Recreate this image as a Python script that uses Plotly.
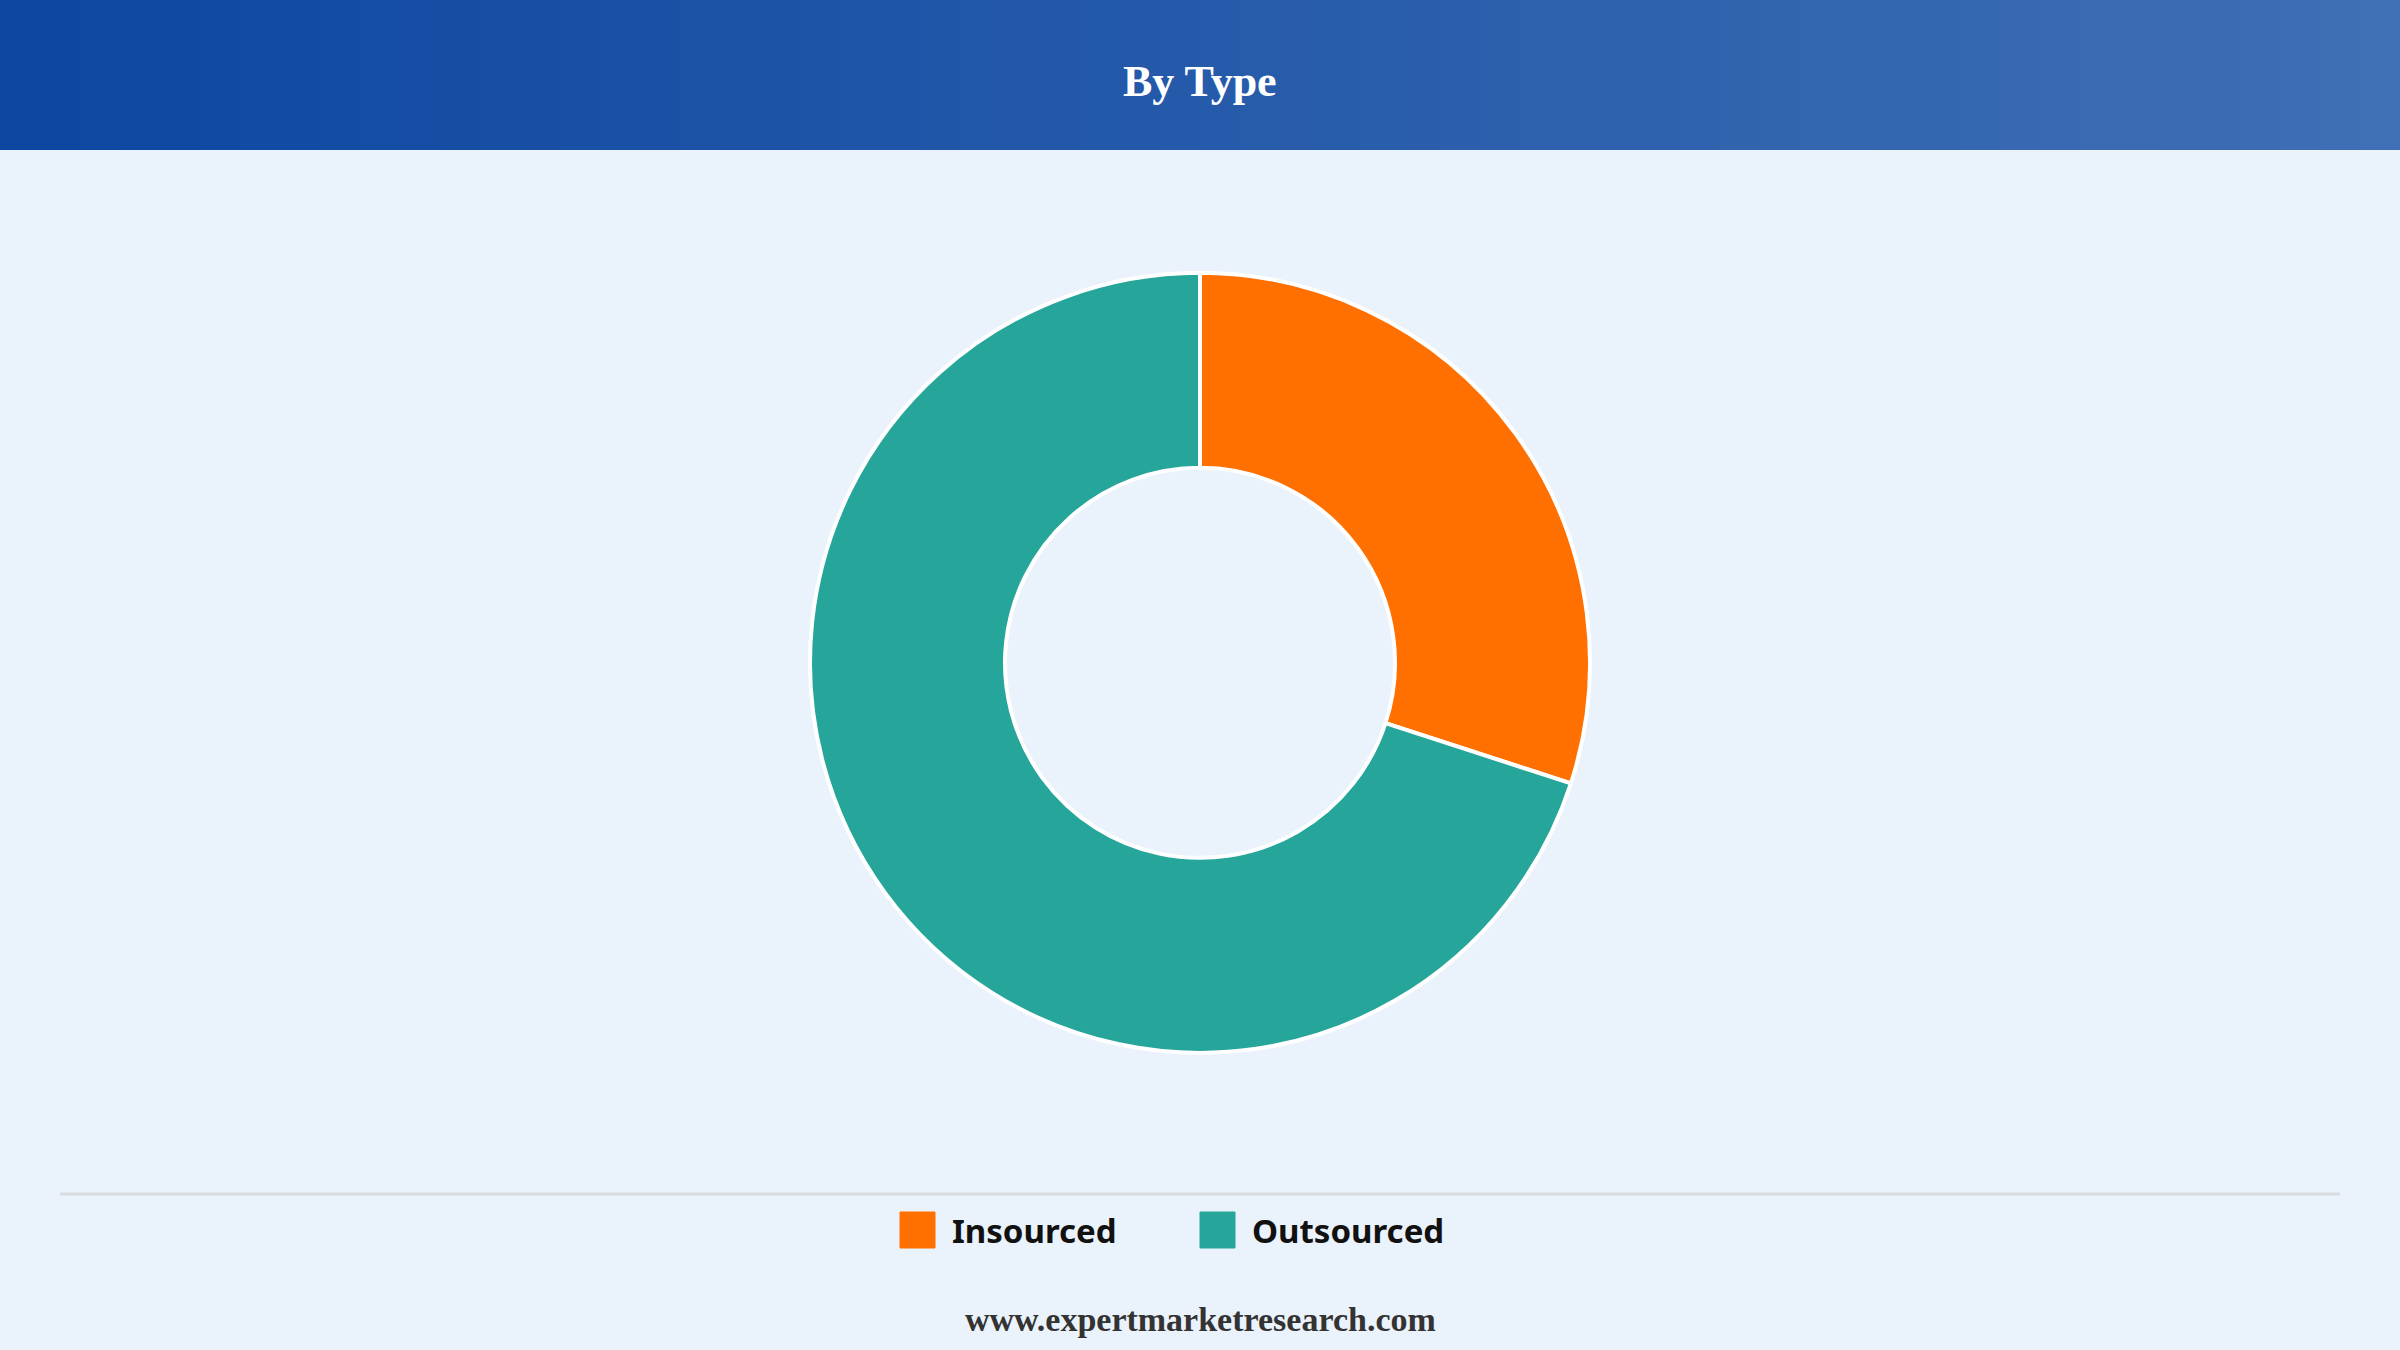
import plotly.graph_objects as go

labels = ["Insourced", "Outsourced"]
values = [30, 70]
colors = ["#FF7000", "#26A69A"]

W, H = 2400, 1350
fig = go.Figure(go.Pie(
    labels=labels, values=values, hole=0.5, sort=False, direction="clockwise", rotation=0,
    marker=dict(colors=colors, line=dict(color="white", width=4)),
    textinfo="none", hoverinfo="label+percent",
    domain=dict(x=[0.3375, 0.6625], y=[0.22, 0.798]),
))

shapes = []
n = 60
c0 = (13, 71, 161); c1 = (63, 111, 181)
for i in range(n):
    t = i / (n - 1)
    c = tuple(int(c0[k] + (c1[k] - c0[k]) * t) for k in range(3))
    shapes.append(dict(type="rect", xref="paper", yref="paper", x0=i / n, x1=(i + 1) / n + 0.002,
                       y0=1 - 150 / H, y1=1, fillcolor="rgb(%d,%d,%d)" % c, line=dict(width=0), layer="below"))
shapes.append(dict(type="line", xref="paper", yref="paper", x0=60 / W, x1=2340 / W,
                   y0=1 - 1194 / H, y1=1 - 1194 / H, line=dict(color="#D8DCE0", width=3)))

annotations = [
    dict(text="<b>By Type</b>", x=0.5, y=1 - 81 / H, xref="paper", yref="paper", showarrow=False,
         yanchor="middle", font=dict(family="Liberation Serif", size=44, color="white")),
    dict(text="<b>www.expertmarketresearch.com</b>", x=0.5, y=1 - 1319 / H, xref="paper", yref="paper",
         yanchor="middle", showarrow=False, font=dict(family="Liberation Serif", size=34, color="#333")),
]
leg_x = [900, 1200]
for lab, col, lx in zip(labels, colors, leg_x):
    shapes.append(dict(type="rect", xref="paper", yref="paper", x0=lx / W, x1=(lx + 35) / W,
                       y0=1 - 1248 / H, y1=1 - 1212 / H, fillcolor=col, line=dict(color=col, width=1)))
    annotations.append(dict(text="<b>%s</b>" % lab, x=(lx + 50) / W, y=1 - 1230 / H, xref="paper", yref="paper",
                            xanchor="left", yanchor="middle", showarrow=False,
                            font=dict(family="Noto Sans", size=33, color="#111")))

fig.update_layout(
    width=W, height=H, margin=dict(l=0, r=0, t=0, b=0),
    paper_bgcolor="#EAF2FB", plot_bgcolor="#EAF2FB",
    shapes=shapes, showlegend=False, annotations=annotations,
)
fig.write_html("out.html", config={"displayModeBar": False},
               post_script="document.body.style.margin='0';document.body.style.background='#EAF2FB';")
